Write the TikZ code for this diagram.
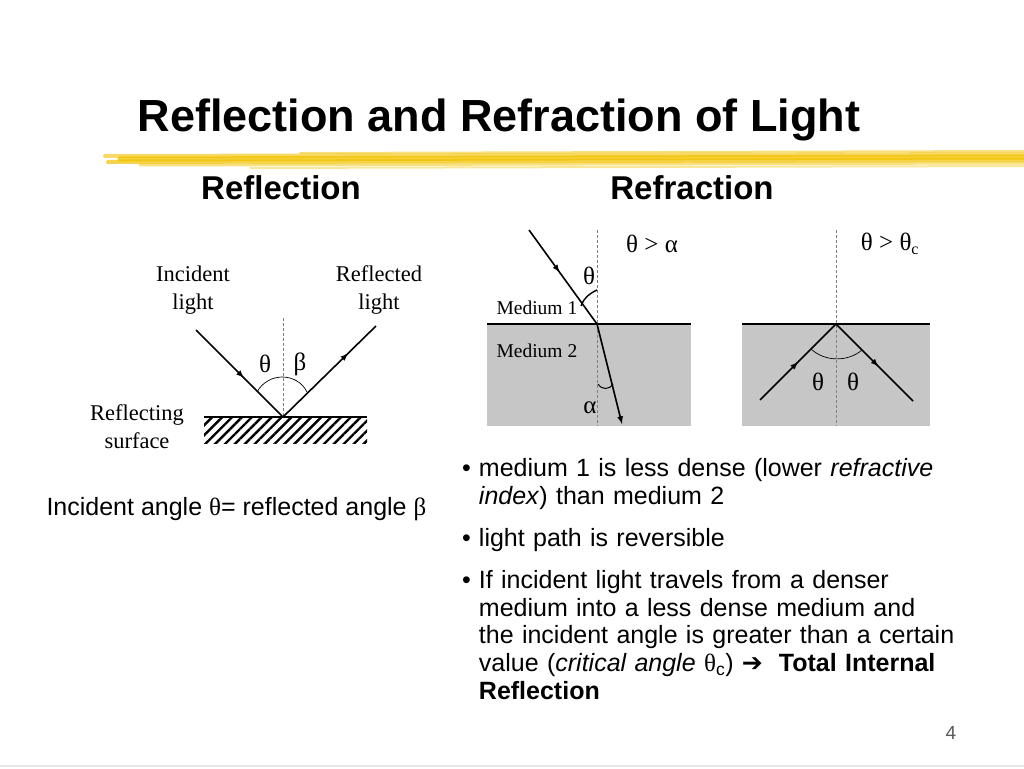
\documentclass[tikz,border=0pt]{standalone}
\usepackage{fontspec}
\setmainfont{Liberation Sans}
\newfontfamily\serif{Liberation Serif}
\usetikzlibrary{decorations.markings,patterns.meta}
\definecolor{brush}{HTML}{F2C200}
\tikzset{
 ray/.style={line width=1.6pt},
 midarrow/.style={ray,postaction={decorate},decoration={markings,mark=at position #1 with {\arrow{latex}}}},
 normal/.style={densely dashed,gray,line width=0.6pt},
 lbl/.style={font=\serif\fontsize{25}{28}\selectfont},
 lbls/.style={font=\serif\fontsize{22.5}{28}\selectfont,align=center},
 med/.style={anchor=west,font=\serif\fontsize{19.5}{22}\selectfont},
 bul/.style={anchor=north west,font=\fontsize{25}{27.7}\selectfont,text width=540pt,align=left,inner sep=0pt},
}
\begin{document}
\begin{tikzpicture}[x=1pt,y=-1pt]
\useasboundingbox[fill=white] (0,0) rectangle (1024,768);
% title
\node[font=\bfseries\fontsize{45}{50}\selectfont] (title) at (499,120) {Reflection and Refraction of Light};
\foreach \y/\a/\w/\o in {156/105/4/0.6,159/120/5/0.8,162/108/4/0.7,165/140/3/0.5,153/300/2/0.5,168/250/2/0.4}{
  \draw[brush,line width=\w pt,opacity=\o,line cap=round] (\a,\y) -- (1024,\y-2);
}
\node[font=\bfseries\fontsize{33}{36}\selectfont] (h1) at (281,188) {Reflection};
\node[font=\bfseries\fontsize{33}{36}\selectfont] (h2) at (692,188) {Refraction};
% reflection
\coordinate (P) at (283,417);
\coordinate (I) at (196,330);
\coordinate (R) at (376,326);
\begin{scope}
\clip (204,418) rectangle (367,443);
\fill[pattern={Lines[angle=45,distance=7pt,line width=2.4pt]},pattern color=black] (204,418) rectangle (367,443);
\end{scope}
\draw[line width=1.2pt] (204,417) -- (367,417);
\draw[normal] (283,318) -- (P);
\draw[midarrow=0.55] (I) -- (P);
\draw[midarrow=0.7] (P) -- (R);
\draw[line width=0.7pt] (257,392) .. controls (268,372) and (297,372) .. (307,392);
\node[lbl] (th1) at (265,364) {θ};
\node[lbl] (be1) at (300,364) {β};
\node[lbls] (il) at (193,290) {Incident\\light};
\node[lbls] (rl) at (379,290) {Reflected\\light};
\node[lbls] (rs) at (137,427) {Reflecting\\surface};
\node[anchor=west,font=\fontsize{25}{28}\selectfont] (eq) at (43,509) {Incident angle {\serif θ}= reflected angle {\serif β}};
% refraction 1
\fill[gray!45] (487,324) rectangle (691,426);
\draw[line width=1.6pt] (487,324) -- (691,324);
\draw[normal] (597,230) -- (597,426);
\coordinate (Q) at (597,324);
\draw[midarrow=0.45] (529,230) -- (Q);
\draw[ray,-latex] (Q) -- (622,424);
\draw[line width=1.4pt] (597,290) .. controls (588,294) and (583,300) .. (581,306);
\draw[line width=1pt] (598,384) .. controls (602,390) and (609,390) .. (613,384);
\node[lbl] (th2) at (589,276) {θ};
\node[lbl] (al2) at (590,408) {α};
\node[med] (m1) at (493,308) {Medium 1};
\node[med] (m2) at (493,351) {Medium 2};
\node[lbl] (c1) at (652,244) {θ > α};
% refraction 2
\fill[gray!45] (742,324) rectangle (930,426);
\draw[line width=1.6pt] (742,324) -- (930,324);
\draw[normal] (836,230) -- (836,426);
\coordinate (T) at (836,324);
\draw[midarrow=0.5] (760,400) -- (T);
\draw[midarrow=0.55] (T) -- (913,401);
\draw[line width=0.7pt] (811,349) .. controls (825,362) and (848,362) .. (862,350);
\node[lbl] (th3) at (818,382) {θ};
\node[lbl] (th4) at (853,382) {θ};
\node[lbl] (c2) at (890,244) {θ > θ\textsubscript{\fontsize{16}{18}\selectfont c}};
% bullets
\node[bul] (b1) at (462,458) {•\hspace{8pt}\parbox[t]{520pt}{medium 1 is less dense (lower \textit{refractive}\\\textit{index}) than medium 2}};
\node[bul] (b2) at (462,528) {•\hspace{8pt}light path is reversible};
\node[bul] (b3) at (462,570) {•\hspace{8pt}\parbox[t]{520pt}{If incident light travels from a denser\\medium into a less dense medium and\\the incident angle is greater than a certain\\value (\textit{critical angle} {\serif θ}\textsubscript{c}) {\fontspec{DejaVu Sans}\bfseries ➔}\hspace{16pt}\textbf{Total Internal}\\\textbf{Reflection}}};
\node[font=\fontsize{19}{22}\selectfont,gray!70!black] (pn) at (951,733) {4};
\draw[gray!20,line width=2pt] (0,766) -- (1024,766);
\end{tikzpicture}
\end{document}
